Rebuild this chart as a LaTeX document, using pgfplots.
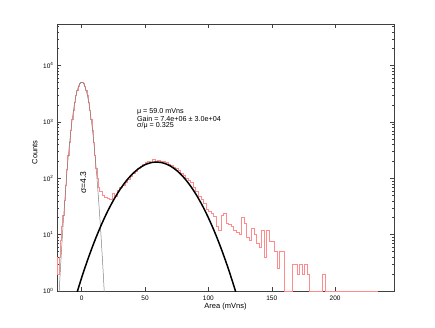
\documentclass[border=0pt]{standalone}
\usepackage{pgfplots}
\pgfplotsset{compat=1.18}
\usepackage{fontspec}
\setmainfont{Liberation Sans}
\definecolor{histred}{RGB}{255,140,140}
\begin{document}
\begin{tikzpicture}
\path[use as bounding box] (0pt,0pt) rectangle (435pt,327pt);
\begin{axis}[
  at={(57pt,36pt)}, anchor=south west, scale only axis,
  width=337pt, height=267pt,
  ymode=log, log basis y=10,
  xmin=-19.5, xmax=246.5, ymin=1, ymax=55000,
  xtick={0,50,100,150,200},
  /pgf/number format/assume math mode=true,
  yticklabel={10\textsuperscript{\pgfmathprintnumber{\tick}}},
  tick align=inside,
  major tick length=4pt, minor tick length=2pt,
  axis line style={black!75, line width=0.8pt},
  every tick/.style={black!75, line width=0.5pt},
  tick label style={font=\fontsize{6.5}{7.5}\selectfont},
  label style={font=\fontsize{7.5}{8.5}\selectfont},
  xlabel={Area (mVns)}, ylabel={Counts},
  xlabel style={at={(axis description cs:0.5,0)}, anchor=north, yshift=-9pt},
  ylabel style={at={(axis description cs:0,0.52)}, anchor=south, yshift=16pt},
  xticklabel style={yshift=-1pt},
  clip=true,
]
\addplot[const plot mark left, draw=histred, line width=0.55pt] coordinates {
(-20,4)(-19,2)(-18,4)(-17,8)(-16,14)(-15,22)(-14,40)(-13,75)(-12,143)(-11,259)
(-10,444)(-9,723)(-8,1114)(-7,1627)(-6,2251)(-5,2949)(-4,3662)(-3,4307)(-2,4799)(-1,5066)
(0,5066)(1,4799)(2,4307)(3,3662)(4,2949)(5,2251)(6,1627)(7,1114)(8,723)(9,444)
(10,259)(11,150)(12,100)(13,70)
(14,58)(16,50)(18,47)(20,45)(22,42)(24,55)(26,48)(28,62)(30,70)(32,75)(34,85)(36,95)(38,110)
(40,125)(42,135)(44,150)(46,165)(48,175)(50,190)(52,200)(54,195)(56,215)(58,205)(60,210)
(62,200)(64,200)(66,190)(68,180)(70,172)(72,160)(74,148)(76,140)(78,122)(80,115)(82,100)
(84,94)(86,84)(88,70)(90,60)(92,48)(94,42)(96,36)(98,28)(100,26)(102,24)(104,21)(106,14)
(108,12)(110,22)(112,24)(114,16)(116,15)(118,14)(120,12)(122,11)(124,10)(126,20)(128,16)
(130,9)(132,8)(134,13)(136,10)(138,7)(140,6)(142,12)(144,4)(146,12)(148,7.5)(150,7.5)
(152,5)(154,2.5)(156,5)(158,5)(160,1)(166,3)(168,3)(170,2)(172,3)(174,2)(176,3)(178,2)
(180,1)(190,2)(192,1)(234,1)
};
\addplot[black!50, line width=0.5pt] coordinates {
(-19,0.294)(-18,0.799)(-17,2.06)(-16,5.02)(-15,11.62)(-14,25.45)(-13,52.83)(-12,103.9)
(-11,193.4)(-10,341.3)(-9,570.8)(-8,903.5)(-7,1356)(-6,1927)(-5,2594)(-4,3309)(-3,3998)
(-2,4577)(-1,4964)(0,5100)(1,4964)(2,4577)(3,3998)(4,3309)(5,2594)(6,1927)(7,1356)
(8,903.5)(9,570.8)(10,341.3)(11,193.4)(12,103.9)(13,52.83)(14,25.45)(15,11.62)(16,5.02)
(17,2.06)(18,0.799)(19,0.294)
};
\addplot[black, line width=1.5pt, smooth] coordinates {
(-5,0.754)(0,1.738)(5,3.736)(10,7.51)(15,14.11)(20,24.79)(25,40.66)(30,62.32)(35,89.29)
(40,119.5)(45,149.5)(50,174.7)(55,190.8)(60,194.7)(65,185.7)(70,165.5)(75,137.8)(80,107.2)
(85,77.94)(90,52.96)(95,33.62)(100,19.95)(105,11.05)(110,5.727)(115,2.774)(120,1.254)(125,0.530)
};
\node[anchor=north west, align=left, font=\fontsize{7.2}{6.2}\selectfont, inner sep=0pt]
  at (rel axis cs:0.237,0.684) {μ = 59.0 mVns\\Gain = 7.4e+06 ± 3.0e+04\\σ/μ = 0.325};
\node[rotate=90, font=\fontsize{8.5}{9}\selectfont, inner sep=0pt] at (axis cs:1.2,83) {σ=4.3};
\end{axis}
\end{tikzpicture}
\end{document}
